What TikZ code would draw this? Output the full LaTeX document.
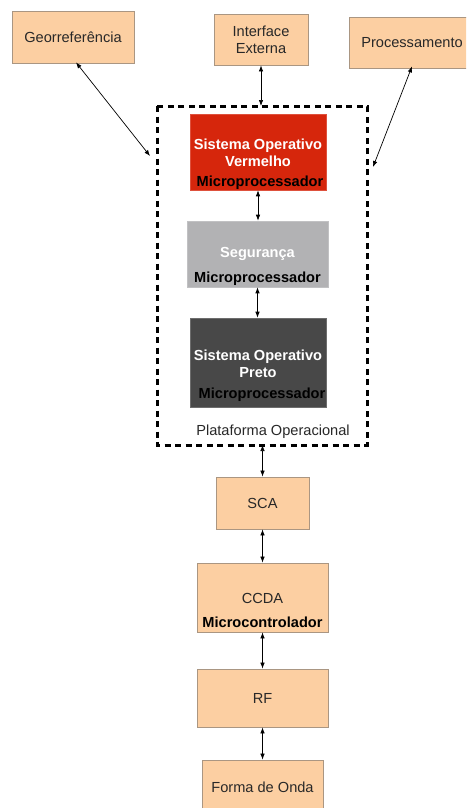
\documentclass[tikz,border=0pt]{standalone}
\usepackage{fontspec}
\setmainfont{Liberation Sans}
\usetikzlibrary{arrows.meta,calc}
\definecolor{boxfill}{RGB}{252,207,162}
\definecolor{boxline}{RGB}{170,150,130}
\definecolor{redos}{RGB}{214,38,12}
\definecolor{grayseg}{RGB}{178,178,180}
\definecolor{darkos}{RGB}{72,72,72}
\definecolor{inktext}{RGB}{40,40,40}
\tikzset{
  orangebox/.style={draw=boxline, line width=0.8pt, fill=boxfill, inner sep=0pt, align=center,
    text=inktext, font=\fontsize{14.6}{16.7}\selectfont},
  corebox/.style={draw=#1!80!white, line width=0.6pt, fill=#1, inner sep=0pt},
  whitebold/.style={text=white, font=\bfseries\fontsize{14.6}{16.7}\selectfont, align=center, inner sep=0pt},
  blackbold/.style={text=black, font=\bfseries\fontsize{14.6}{16.7}\selectfont, inner sep=0pt},
  link/.style={{Latex[length=6pt,width=4.5pt]}-{Latex[length=6pt,width=4.5pt]}, line width=0.7pt},
  platform/.style={draw, line width=3pt, dash pattern=on 6pt off 4.5pt}
}
\begin{document}
\begin{tikzpicture}[x=1pt,y=-1pt]
\useasboundingbox (0,0) rectangle (466,808);
\clip (0,0) rectangle (466,808);
\fill[white] (0,0) rectangle (466,808);

% external blocks
\node[orangebox, minimum width=122pt, minimum height=52pt] (geo) at (73,37) {Georreferência};
\node[orangebox, minimum width=94pt, minimum height=51pt] (ext) at (261,39.5) {Interface\\Externa};
\node[orangebox, minimum width=126pt, minimum height=51pt] (proc) at (412,42.5) {Processamento};

% operational platform
\draw[platform] (157,106) rectangle (367,445);
\coordinate (platL) at (157,160);
\coordinate (platT) at (261,106);
\coordinate (platR) at (367,170);
\coordinate (platB) at (262.5,445);
\node[font=\fontsize{14.6}{16.7}\selectfont, text=inktext, inner sep=0pt] (platlabel) at (273,432) {Plataforma Operacional};

% red OS
\node[corebox=redos, minimum width=136pt, minimum height=76pt] (red) at (258,152) {};
\node[whitebold] (redtxt) at (258,152.5) {Sistema Operativo\\Vermelho};
\node[blackbold] (redmp) at (260,183) {Microprocessador};

% security
\node[corebox=grayseg, minimum width=141pt, minimum height=66pt] (seg) at (257.5,254) {};
\node[whitebold] (segtxt) at (257.5,254) {Segurança};
\node[blackbold] (segmp) at (257.5,279) {Microprocessador};

% black OS
\node[corebox=darkos, minimum width=136pt, minimum height=89pt] (dark) at (258,362.5) {};
\node[whitebold] (darktxt) at (258,363.5) {Sistema Operativo\\Preto};
\begin{scope}
\clip (dark.south west) rectangle (dark.north east);
\node[blackbold] (darkmp) at (262,395) {Microprocessador};
\end{scope}

% lower chain
\node[orangebox, minimum width=93pt, minimum height=52pt] (sca) at (262.5,503) {SCA};
\node[orangebox, minimum width=131pt, minimum height=69pt] (ccda) at (262.5,597.5) {};
\node[font=\fontsize{14.6}{16.7}\selectfont, text=inktext, inner sep=0pt] (ccdatxt) at (262.5,598) {CCDA};
\node[blackbold] (ccdamc) at (262.5,622) {Microcontrolador};
\node[orangebox, minimum width=131pt, minimum height=58pt] (rf) at (262.5,698) {RF};
\node[orangebox, minimum width=121pt, minimum height=54pt] (wave) at (262.5,787) {Forma de Onda};

% connectors
\draw[link] ($(geo.south)+(3,-1)$) -- ($(platL)+(-7,-4)$);
\draw[link] (ext.south) -- (platT);
\draw[link] ($(proc.south)+(0,-2)$) -- ($(platR)+(6,-3)$);
\draw[link] (red.south) -- (red.south |- seg.north);
\draw[link] (seg.south) -- (seg.south |- dark.north);
\draw[link] (platB) -- (sca.north);
\draw[link] (sca.south) -- (ccda.north);
\draw[link] (ccda.south) -- (rf.north);
\draw[link] (rf.south) -- (wave.north);
\end{tikzpicture}
\end{document}
